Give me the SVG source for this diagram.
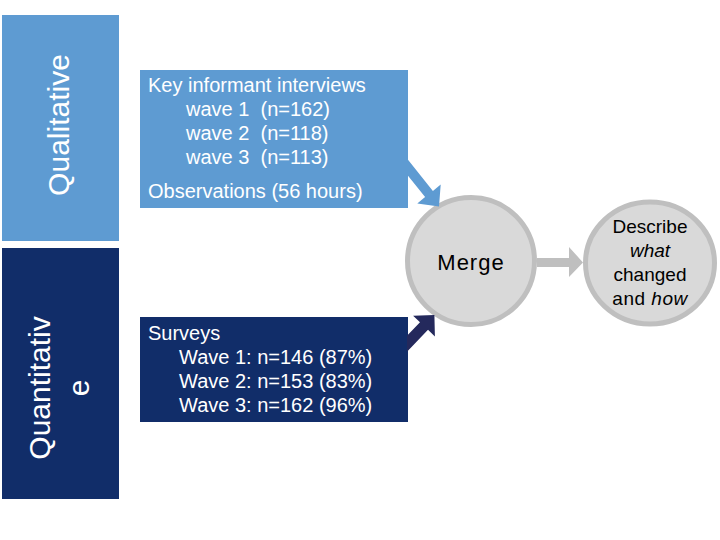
<svg xmlns="http://www.w3.org/2000/svg" width="720" height="540" viewBox="0 0 720 540">
<style>
.t{font-family:"Liberation Sans",Arial,sans-serif;font-size:20px;fill:#ffffff;white-space:pre}
.side{font-family:"Liberation Sans",Arial,sans-serif;font-size:30px;fill:#ffffff;text-anchor:middle}
.dark{font-family:"Liberation Sans",Arial,sans-serif;fill:#000000;text-anchor:middle}
.circ{fill:#d9d9d9;stroke:#bfbfbf;stroke-width:5}
.light{fill:#5e9bd2}
.navy{fill:#112d69}
</style>
<rect x="0" y="0" width="720" height="540" fill="#ffffff"/>
<g id="qualitative">
<rect class="light" x="2" y="15" width="117" height="226"/>
<text class="side" transform="translate(69,125) rotate(-90)">Qualitative</text>
</g>
<g id="quantitative">
<rect class="navy" x="2" y="248" width="117" height="251"/>
<text class="side" transform="translate(50,388) rotate(-90)">Quantitativ</text>
<text class="side" transform="translate(89,388) rotate(-90)">e</text>
</g>
<g id="interviews">
<rect class="light" x="140" y="70" width="268" height="138"/>
<text class="t" x="148" y="92">Key informant interviews</text>
<text class="t" x="186" y="116">wave 1  (n=162)</text>
<text class="t" x="186" y="140">wave 2  (n=118)</text>
<text class="t" x="186" y="164">wave 3  (n=113)</text>
<text class="t" x="148" y="198">Observations (56 hours)</text>
</g>
<g id="surveys">
<rect class="navy" x="140" y="317" width="268" height="105"/>
<text class="t" x="148" y="340">Surveys</text>
<text class="t" x="179" y="364">Wave 1: n=146 (87%)</text>
<text class="t" x="179" y="388">Wave 2: n=153 (83%)</text>
<text class="t" x="179" y="412">Wave 3: n=162 (96%)</text>
</g>
<g id="merge">
<circle class="circ" cx="471" cy="261" r="63.5"/>
<text class="dark" x="471" y="270" font-size="22" letter-spacing="1">Merge</text>
</g>
<g id="describe">
<ellipse class="circ" cx="650" cy="263" rx="64.5" ry="61"/>
<text class="dark" x="650" y="233" font-size="19">Describe</text>
<text class="dark" x="650" y="257" font-size="19" font-style="italic">what</text>
<text class="dark" x="650" y="281" font-size="19">changed</text>
<text class="dark" x="650" y="305" font-size="19" letter-spacing="0.5">and <tspan font-style="italic">how</tspan></text>
</g>
<g id="connectors">
<polygon fill="#5e9bd2" points="407,158.5 432.9,190.9 440.7,184.6 439,206.5 417.3,203.4 425.1,197.1 407,174.5"/>
<polygon fill="#24295c" points="407,351.8 428,329.8 434.9,336.4 434.4,315.1 413.1,315.7 420,322.2 407,335.8"/>
<polygon fill="#bfbfbf" points="537,258 569,258 569,247 583,262.5 569,277 569,267 537,267"/>
</g>
</svg>
